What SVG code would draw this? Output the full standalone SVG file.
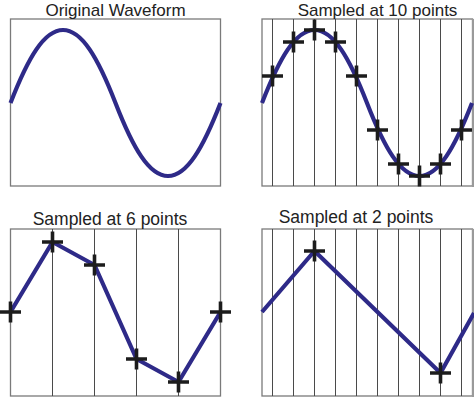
<svg xmlns="http://www.w3.org/2000/svg" xmlns:xlink="http://www.w3.org/1999/xlink" width="474" height="397" viewBox="0 0 474 397">
<defs>
<style>
.frame{fill:#fff;stroke:#7a7a7a;stroke-width:1.3}
.edge{stroke:#9a9a9a;stroke-width:2}
.grid{stroke:#4a4a4a;stroke-width:1}
.wave{fill:none;stroke:#2e2a88;stroke-width:4.2;stroke-linejoin:round}
.title{font-family:"Liberation Sans",Arial,sans-serif;font-size:17.5px;fill:#222;text-anchor:middle}
.top{font-size:17px}
.cross{fill:none;stroke:#1c1c1c;stroke-width:3.6}
</style>
<path id="sine" d="M0,0 c17.5,-45 33.6,-73 52.5,-73 c18.9,0 35,28 52.5,73 c17.5,45 33.6,73 52.5,73 c18.9,0 35,-28 52.5,-73"/>
<path id="x" d="M-10.5,0 H10.5 M0,-10.5 V10.5"/>
<g id="grid10">
<path class="grid" d="M10.5,0 v167 M31.5,0 v167 M52.5,0 v167 M73.5,0 v167 M94.5,0 v167 M115.5,0 v167 M136.5,0 v167 M157.5,0 v167 M178.5,0 v167 M199.5,0 v167"/>
</g>
</defs>
<rect width="474" height="397" fill="#fff"/>

<g id="panel-original">
<rect class="frame" x="10.5" y="19" width="210" height="167"/>
<text class="title top" x="115.5" y="15.5">Original Waveform</text>
<use xlink:href="#sine" class="wave" transform="translate(10.5,103)"/>
</g>

<g id="panel-10">
<rect class="frame" x="262" y="19" width="210.5" height="167"/>
<line class="edge" x1="473" y1="19" x2="473" y2="187"/>
<use xlink:href="#grid10" transform="translate(262,19)"/>
<text class="title top" x="377.5" y="15.5">Sampled at 10 points</text>
<use xlink:href="#sine" class="wave" transform="translate(262,103)"/>
<g class="cross">
<use xlink:href="#x" x="272.5" y="76"/>
<use xlink:href="#x" x="293.5" y="42"/>
<use xlink:href="#x" x="314.5" y="30"/>
<use xlink:href="#x" x="335.5" y="42"/>
<use xlink:href="#x" x="356.5" y="76"/>
<use xlink:href="#x" x="377.5" y="130"/>
<use xlink:href="#x" x="398.5" y="164"/>
<use xlink:href="#x" x="419.5" y="176"/>
<use xlink:href="#x" x="440.5" y="164"/>
<use xlink:href="#x" x="461.5" y="130"/>
</g>
</g>

<g id="panel-6">
<rect class="frame" x="10.5" y="229" width="210" height="167"/>
<path class="grid" d="M52.5,229 V396 M94.5,229 V396 M136.5,229 V396 M178.5,229 V396"/>
<text class="title" x="110" y="225">Sampled at 6 points</text>
<polyline class="wave" points="10.5,312 52.5,242 94.5,265 136.5,359 178.5,382 220.5,312"/>
<g class="cross">
<use xlink:href="#x" x="10.5" y="312"/>
<use xlink:href="#x" x="52.5" y="242"/>
<use xlink:href="#x" x="94.5" y="265"/>
<use xlink:href="#x" x="136.5" y="359"/>
<use xlink:href="#x" x="178.5" y="382"/>
<use xlink:href="#x" x="220.5" y="312"/>
</g>
</g>

<g id="panel-2">
<rect class="frame" x="262" y="229" width="210.5" height="167"/>
<line class="edge" x1="473" y1="229" x2="473" y2="397"/>
<use xlink:href="#grid10" transform="translate(262,229)"/>
<text class="title" x="356" y="222.5">Sampled at 2 points</text>
<polyline class="wave" points="262,312 314.5,251 440.5,373 474,313"/>
<g class="cross">
<use xlink:href="#x" x="314.5" y="251"/>
<use xlink:href="#x" x="440.5" y="373"/>
</g>
</g>
</svg>
